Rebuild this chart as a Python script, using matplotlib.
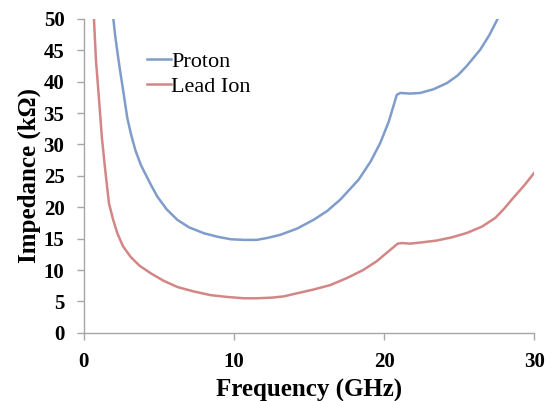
import matplotlib.pyplot as plt

plt.rcParams['font.family'] = ['Liberation Serif', 'DejaVu Serif']

# values
proton_f = [1.95, 2.08, 2.22, 2.38, 2.55, 2.72, 2.89, 3.15, 3.44, 3.8, 4.22, 4.5, 4.89,
            5.5, 6.22, 7.0, 8.0, 8.9, 9.78, 10.67, 11.5, 12.2, 13.07, 14.2, 15.3,
            16.2, 17.07, 18.3, 19.1, 19.73, 20.3, 20.84, 21.07, 21.7, 22.4, 23.3,
            24.2, 24.9, 25.5, 26.4, 27.0, 27.6]
proton_z = [50.2, 47.4, 44.9, 42.2, 39.6, 36.9, 34.2, 31.5, 29.0, 26.7, 24.7, 23.4, 21.7,
            19.7, 18.0, 16.8, 15.85, 15.3, 14.9, 14.8, 14.8, 15.1, 15.6, 16.6, 18.0,
            19.4, 21.2, 24.4, 27.3, 30.2, 33.6, 37.9, 38.2, 38.1, 38.2, 38.8,
            39.8, 41.0, 42.5, 45.1, 47.4, 50.2]

lead_f = [0.67, 0.8, 1.0, 1.2, 1.44, 1.67, 1.95, 2.22, 2.6, 3.11, 3.7, 4.44, 5.3, 6.22,
          7.3, 8.44, 9.6, 10.67, 11.5, 12.5, 13.3, 14.2, 15.3, 16.4, 17.5, 18.6,
          19.5, 20.4, 20.9, 21.2, 21.7, 22.5, 23.5, 24.5, 25.5, 26.5, 27.4, 28.0,
          28.6, 29.3, 30.0]
lead_z = [50.0, 43.5, 37.4, 31.0, 25.5, 20.6, 18.0, 15.9, 13.8, 12.1, 10.7, 9.5, 8.3, 7.3,
          6.6, 6.0, 5.7, 5.5, 5.5, 5.6, 5.8, 6.3, 6.9, 7.6, 8.7, 10.0,
          11.4, 13.2, 14.2, 14.3, 14.2, 14.4, 14.7, 15.2, 15.9, 16.9, 18.3, 19.8,
          21.5, 23.4, 25.5]

fig = plt.figure(figsize=(5.52, 4.01), dpi=100)
ax = fig.add_axes([0.152, 0.170, 0.816, 0.783])

ax.plot(proton_f, proton_z, color='#7f9ccb', lw=1.8, label='Proton')
ax.plot(lead_f, lead_z, color='#d38686', lw=1.8, label='Lead Ion')

ax.set_xlim(0, 30)
ax.set_ylim(0, 50)
ax.set_xticks([0, 10, 20, 30])
ax.set_yticks(range(0, 51, 5))

for s in ['top', 'right']:
    ax.spines[s].set_visible(False)
for s in ['left', 'bottom']:
    ax.spines[s].set_color('#a6a6a6')
    ax.spines[s].set_linewidth(1.0)
ax.tick_params(axis='both', color='#a6a6a6', length=5, width=1.0, direction='out',
               labelsize=15)
ax.tick_params(axis='x', pad=9)
ax.tick_params(axis='y', pad=9)
for lab in ax.get_xticklabels() + ax.get_yticklabels():
    lab.set_fontweight('bold')

ax.set_xlabel('Frequency (GHz)', fontsize=18, fontweight='bold', labelpad=5)
ax.set_ylabel('Impedance (k\u03a9)', fontsize=18, fontweight='bold', labelpad=2)

ax.legend(loc='upper left', bbox_to_anchor=(0.139, 0.897), frameon=False, fontsize=16,
          borderaxespad=0, borderpad=0, handlelength=1.1, handletextpad=0.0,
          labelspacing=0.2)

fig.savefig('out.png', dpi=100)
